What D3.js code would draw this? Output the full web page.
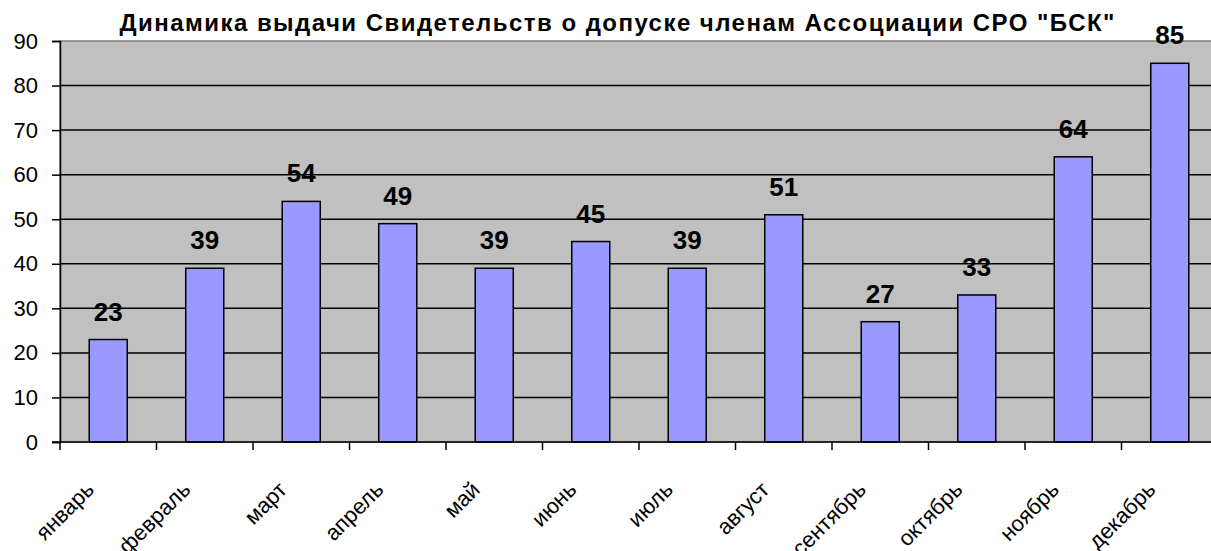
<!DOCTYPE html>
<html lang="ru">
<head>
<meta charset="utf-8">
<style>
  body { margin: 0; background: #fff; }
  text { font-family: "Liberation Sans", Arial, sans-serif; }
</style>
</head>
<body>
<svg width="1211" height="551"></svg>
<script src="https://d3js.org/d3.v7.min.js"></script>
<script>
// month names and number of certificates issued
var months = ["январь", "февраль", "март", "апрель", "май", "июнь",
              "июль", "август", "сентябрь", "октябрь", "ноябрь", "декабрь"];
var counts = [23, 39, 54, 49, 39, 45, 39, 51, 27, 33, 64, 85];
var yTicks = [0, 10, 20, 30, 40, 50, 60, 70, 80, 90];
var title = "Динамика выдачи Свидетельств о допуске членам Ассоциации СРО \"БСК\"";

var svg = d3.select("svg");
var plotL = 60, plotR = 1218, plotT = 41, plotB = 442;

var x = d3.scaleBand()
    .domain(months)
    .range([plotL, plotR])
    .paddingInner(0.606)
    .paddingOuter(0.303);

var y = d3.scaleLinear().domain([0, 90]).range([plotB, plotT]);

// plot background
svg.append("rect")
    .attr("x", plotL).attr("y", plotT)
    .attr("width", plotR - plotL).attr("height", plotB - plotT)
    .attr("fill", "#c0c0c0")
    .attr("stroke", "#808080")
    .attr("stroke-width", 1.5);

// gridlines
svg.selectAll(".grid")
    .data(yTicks.filter(function (d) { return d > 0 && d < 90; }))
    .enter().append("line")
    .attr("class", "grid")
    .attr("x1", plotL).attr("x2", plotR)
    .attr("y1", function (d) { return y(d); })
    .attr("y2", function (d) { return y(d); })
    .attr("stroke", "#000")
    .attr("stroke-width", 1.5);

// bars
svg.selectAll(".bar")
    .data(counts)
    .enter().append("rect")
    .attr("class", "bar")
    .attr("x", function (d, i) { return x(months[i]); })
    .attr("y", function (d) { return y(d); })
    .attr("width", x.bandwidth())
    .attr("height", function (d) { return plotB - y(d); })
    .attr("fill", "#9999ff")
    .attr("stroke", "#000")
    .attr("stroke-width", 1.5);

// value labels
svg.selectAll(".val")
    .data(counts)
    .enter().append("text")
    .attr("class", "val")
    .attr("x", function (d, i) { return x(months[i]) + x.bandwidth() / 2; })
    .attr("y", function (d) { return y(d) - 19; })
    .attr("text-anchor", "middle")
    .attr("font-size", 26)
    .attr("font-weight", "bold")
    .text(function (d) { return d; });

// y axis
var yAxis = svg.append("g")
    .attr("transform", "translate(" + plotL + ",0)")
    .call(d3.axisLeft(y).tickValues(yTicks).tickSize(8).tickPadding(14));
yAxis.select(".domain").attr("stroke-width", 1.5);
yAxis.selectAll(".tick line").attr("stroke-width", 1.5);
yAxis.selectAll(".tick text")
    .attr("font-size", 22)
    .attr("font-family", "Liberation Sans, Arial, sans-serif")
    .attr("fill", "#000");

// x axis: ticks between categories
var step = x.step();
var xAxis = svg.append("g").attr("transform", "translate(0," + plotB + ")");
xAxis.append("line")
    .attr("x1", plotL - 8).attr("x2", plotR)
    .attr("stroke", "#000").attr("stroke-width", 1.5);
xAxis.selectAll(".xtick")
    .data(d3.range(months.length))
    .enter().append("line")
    .attr("class", "xtick")
    .attr("x1", function (i) { return plotL + i * step; })
    .attr("x2", function (i) { return plotL + i * step; })
    .attr("y1", 0).attr("y2", 8)
    .attr("stroke", "#000").attr("stroke-width", 1.5);
xAxis.selectAll(".xlab")
    .data(months)
    .enter().append("text")
    .attr("class", "xlab")
    .attr("transform", function (d) {
        var cx = x(d) + x.bandwidth() / 2 - 13;
        return "translate(" + cx + ",49) rotate(-45)";
    })
    .attr("text-anchor", "end")
    .attr("font-size", 22)
    .text(function (d) { return d; });

// title
svg.append("text")
    .attr("x", 617).attr("y", 31)
    .attr("text-anchor", "middle")
    .attr("font-size", 24)
    .attr("font-weight", "bold")
    .attr("textLength", 995)
    .attr("lengthAdjust", "spacing")
    .text(title);
</script>
</body>
</html>
